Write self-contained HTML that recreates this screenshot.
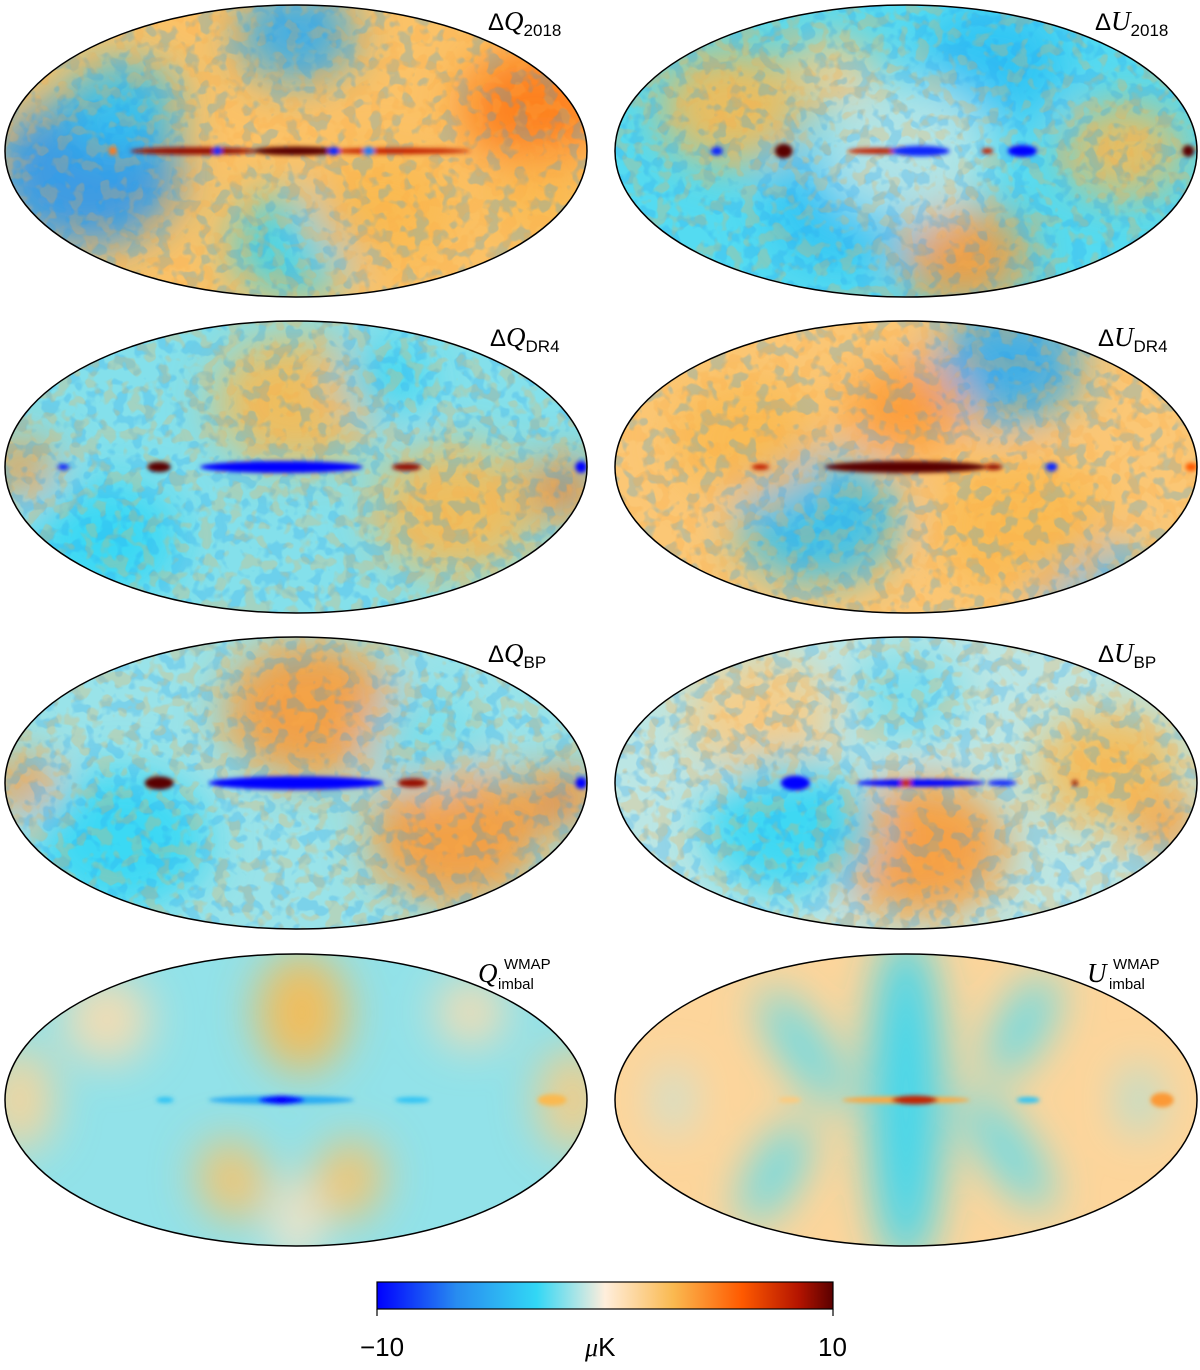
<!DOCTYPE html>
<html><head><meta charset="utf-8">
<style>
body{margin:0;background:#fff;}
#wrap{position:relative;width:1200px;height:1370px;overflow:hidden;background:#fff;font-family:"Liberation Sans",sans-serif;}
.lab{position:absolute;font-size:24px;color:#000;white-space:nowrap;}
.lab i{font-family:"Liberation Serif",serif;font-size:27px;}
.lab sub{font-size:17px;vertical-align:-6px;}
.lab .sup{position:absolute;font-size:15px;}
.cb{position:absolute;font-size:26px;}
</style></head>
<body>
<div id="wrap">
<svg id="svg" width="1200" height="1370"></svg>
<div class="lab" style="left:488px;top:6px">Δ<i>Q</i><sub>2018</sub></div>
<div class="lab" style="left:1095px;top:6px">Δ<i>U</i><sub>2018</sub></div>
<div class="lab" style="left:490px;top:322px">Δ<i>Q</i><sub>DR4</sub></div>
<div class="lab" style="left:1098px;top:322px">Δ<i>U</i><sub>DR4</sub></div>
<div class="lab" style="left:488px;top:638px">Δ<i>Q</i><sub>BP</sub></div>
<div class="lab" style="left:1098px;top:638px">Δ<i>U</i><sub>BP</sub></div>
<div class="lab" style="left:478px;top:958px"><i>Q</i><span class="sup" style="left:26px;top:-2px">WMAP</span><span class="sup" style="left:20px;top:18px">imbal</span></div>
<div class="lab" style="left:1087px;top:958px"><i>U</i><span class="sup" style="left:26px;top:-2px">WMAP</span><span class="sup" style="left:22px;top:18px">imbal</span></div>
<div class="cb" style="left:360px;top:1332px">−10</div>
<div class="cb" style="left:585px;top:1332px"><i style="font-family:'Liberation Serif',serif">μ</i>K</div>
<div class="cb" style="left:818px;top:1332px">10</div>
</div>
<script>
// panel data: base level and large-scale blobs [u, v, radius, value, aspect(h/w), rotation deg]
const panelNames=["dq2018","du2018","dqdr4","dudr4","dqbp","dubp","qwmap","uwmap"];
const baseValues=[2.5,-2.5,-1.8,2.2,-1.5,-1.0,-1.6,1.4];
const noiseLevels=[1,1,1,1,1,1,0,0];
const blobs=[
 [[-0.72,0.15,0.32,-6,0.8,0],[-0.6,-0.3,0.2,-4,0.8,0],[0.0,-0.8,0.2,-5,0.8,0],[0.0,0.65,0.22,-3,0.8,0],[0.82,-0.3,0.25,5,0.8,0],[0.85,0.3,0.18,3,0.8,0],[0.3,0.4,0.25,3,0.8,0]],
 [[-0.6,-0.3,0.25,3,0.8,0],[0.2,0.72,0.22,4,0.8,0],[0.75,0.0,0.2,3,0.8,0],[-0.25,-0.55,0.15,2,0.8,0],[-0.2,0.35,0.28,-4,0.8,0],[0.3,-0.6,0.25,-4,0.8,0],[0.0,0.0,0.3,-1,0.8,0]],
 [[0.0,-0.45,0.28,3,0.8,0],[0.55,0.3,0.28,3,0.8,0],[-0.95,0.0,0.12,4,0.8,0],[0.92,0.15,0.12,5,0.8,0],[-0.65,0.5,0.25,-3,0.8,0],[0.3,-0.6,0.15,-3,0.8,0]],
 [[0.35,-0.7,0.25,-5,0.8,0],[-0.3,0.35,0.28,-4,0.8,0],[0.65,0.85,0.2,-4,0.8,0],[-0.55,-0.2,0.25,3,0.8,0],[0.4,0.4,0.3,3,0.8,0],[0.0,-0.4,0.2,4,0.8,0]],
 [[0.05,-0.5,0.3,4,0.8,0],[0.55,0.35,0.3,4,0.8,0],[-0.95,0.0,0.12,4,0.8,0],[0.92,0.1,0.12,5,0.8,0],[-0.6,0.4,0.3,-3,0.8,0],[0.45,-0.3,0.2,-2,0.8,0]],
 [[0.05,0.45,0.3,4,0.8,0],[0.7,-0.1,0.25,3,0.8,0],[0.9,0.3,0.12,4,0.8,0],[-0.5,-0.45,0.25,2,0.8,0],[-0.4,0.3,0.3,-3,0.8,0],[0.0,-0.6,0.2,-2,0.8,0]],
 [[0.02,-0.6,0.16,3,1.3,0],[-0.22,0.55,0.12,2.5,1.2,-20],[0.18,0.55,0.12,2.5,1.2,20],[-0.95,0.0,0.12,1.5,1.5,0],[0.95,0.0,0.12,2,1.5,0],[-0.65,-0.55,0.15,1,1,0],[0.6,-0.6,0.12,1,1,0],[0.0,0.85,0.08,0.5,2,0]],
 [[0.0,0.0,0.13,-3,4.5,0],[-0.35,-0.35,0.08,-2.5,3,-35],[0.35,0.35,0.08,-2.5,3,-35],[-0.45,0.5,0.08,-2.5,2.5,30],[0.4,-0.5,0.08,-2.5,2.5,30],[-0.8,0.0,0.06,-1,2,0],[0.8,0.0,0.06,-1.5,2,0]]
];
// galactic plane features [u, halfWidthU, halfHeightV, value]
const planeFeatures=[
 [[-0.35,0.22,0.025,9],[0.0,0.15,0.03,10],[0.35,0.25,0.02,8],[-0.27,0.015,0.03,-9],[0.13,0.02,0.03,-9],[-0.63,0.015,0.03,5],[0.25,0.02,0.03,-7]],
 [[-0.42,0.03,0.05,10],[-0.1,0.1,0.02,8],[0.05,0.1,0.035,-9],[0.4,0.05,0.04,-10],[0.28,0.02,0.02,8],[0.97,0.02,0.04,10],[-0.65,0.02,0.03,-9]],
 [[-0.05,0.28,0.04,-10],[-0.47,0.04,0.035,10],[0.38,0.05,0.025,9],[0.98,0.02,0.04,-10],[-0.8,0.02,0.02,-9]],
 [[0.0,0.28,0.04,10],[0.3,0.03,0.02,9],[0.5,0.02,0.03,-9],[0.98,0.02,0.03,6],[-0.5,0.03,0.02,8]],
 [[0.0,0.3,0.045,-10],[-0.47,0.05,0.045,10],[0.4,0.05,0.03,9],[0.98,0.02,0.04,-10]],
 [[-0.38,0.05,0.05,-10],[0.05,0.22,0.025,-10],[0.33,0.05,0.02,-9],[0.58,0.01,0.02,9],[0.0,0.02,0.025,8]],
 [[-0.05,0.25,0.03,-5],[-0.45,0.03,0.02,-4],[0.4,0.06,0.02,-4],[0.88,0.05,0.04,3],[-0.05,0.08,0.03,-10]],
 [[0.0,0.22,0.025,3.5],[0.03,0.08,0.03,8],[0.42,0.04,0.02,-4],[-0.4,0.04,0.02,2],[0.88,0.04,0.05,4]]
];
const cbTicks=[-10,0,10];
const cmapStops=[[-10,[0,0,255]],[-6.5,[40,140,240]],[-3,[50,215,245]],[0,[255,238,220]],[3,[250,185,80]],[6,[255,90,0]],[8.5,[180,20,0]],[10,[90,0,0]]];
function cmap(v){v=Math.max(-10,Math.min(10,v));for(let i=0;i<cmapStops.length-1;i++){const[a,ca]=cmapStops[i],[b,cb]=cmapStops[i+1];if(v<=b){const t=(v-a)/(b-a);return`rgb(${ca.map((c,k)=>Math.round(c+(cb[k]-c)*t)).join(",")})`;}}return"rgb(90,0,0)";}
const NS="http://www.w3.org/2000/svg";const svg=document.getElementById("svg");
function mk(t,a,p){const e=document.createElementNS(NS,t);for(const k in a)e.setAttribute(k,a[k]);(p||svg).appendChild(e);return e;}
const defs=mk("defs",{});
const f=mk("filter",{id:"blur",x:"-50%",y:"-50%",width:"200%",height:"200%"},defs);mk("feGaussianBlur",{stdDeviation:"22"},f);
const f2=mk("filter",{id:"blur2",x:"-50%",y:"-50%",width:"200%",height:"200%"},defs);mk("feGaussianBlur",{stdDeviation:"2"},f2);
function noiseFilter(id,seed,col){const nf=mk("filter",{id,x:0,y:0,width:"100%",height:"100%"},defs);
 mk("feTurbulence",{type:"fractalNoise",baseFrequency:"0.07",numOctaves:"2",seed,result:"t"},nf);
 mk("feColorMatrix",{in:"t",type:"matrix",values:"0 0 0 0 0  0 0 0 0 0  0 0 0 0 0  0 0 0 9 -4.6",result:"a"},nf);
 mk("feFlood",{"flood-color":col,result:"fc"},nf);
 mk("feComposite",{in:"fc",in2:"a",operator:"in"},nf);}
noiseFilter("nb","3","rgb(40,160,240)");noiseFilter("no","8","rgb(250,170,70)");
const centersX=[296,906],centersY=[151,467,783,1100],RX=291,RY=146;
function px(cx,u){return cx+u*RX;} function py(cy,v){return cy+v*RY;}
panelNames.forEach((nm,i)=>{
 const cx=centersX[i%2],cy=centersY[Math.floor(i/2)];
 const cp=mk("clipPath",{id:"c"+i},defs);mk("ellipse",{cx,cy,rx:RX,ry:RY},cp);
 const g=mk("g",{"clip-path":`url(#c${i})`});
 
 
 mk("rect",{x:cx-RX,y:cy-RY,width:2*RX,height:2*RY,fill:cmap(baseValues[i])},g);
 const bg=mk("g",{filter:"url(#blur)"},g);
 blobs[i].forEach(b=>{const x=px(cx,b[0]),y=py(cy,b[1]);const c=mk("ellipse",{cx:x,cy:y,rx:b[2]*RX,ry:b[2]*RX*b[4],fill:cmap(b[3]),opacity:0.9,transform:`rotate(${b[5]} ${x} ${y})`},bg);});
 if(noiseLevels[i]){
  const n1=mk("rect",{x:cx-RX,y:cy-RY,width:2*RX,height:2*RY,filter:"url(#nb)",opacity:0.25},g);
  const n2=mk("rect",{x:cx-RX,y:cy-RY,width:2*RX,height:2*RY,filter:"url(#no)",opacity:0.25},g);
 }
 const pg=mk("g",{filter:"url(#blur2)"},g);
 planeFeatures[i].forEach(p=>{const c=mk("ellipse",{cx:px(cx,p[0]),cy:cy,rx:p[1]*RX,ry:Math.max(p[2]*RY,3),fill:cmap(p[3])},pg);});
 const o=mk("ellipse",{cx,cy,rx:RX,ry:RY,fill:"none",stroke:"#000","stroke-width":1.5});
 
});
const lg=mk("linearGradient",{id:"cbg",x1:0,x2:1,y1:0,y2:0},defs);
cmapStops.forEach(s=>mk("stop",{offset:(s[0]+10)/20,"stop-color":cmap(s[0])},lg));
const cbx0=377,cbx1=833;
const cbr=mk("rect",{x:cbx0,y:1282,width:cbx1-cbx0,height:27,fill:"url(#cbg)",stroke:"#000","stroke-width":1.2});


cbTicks.forEach(t=>{const x=cbx0+(t+10)/20*(cbx1-cbx0);if(t!==0){const l=mk("line",{x1:x,x2:x,y1:1309,y2:1316,stroke:"#000","stroke-width":1.2});}});
</script>
</body></html>
